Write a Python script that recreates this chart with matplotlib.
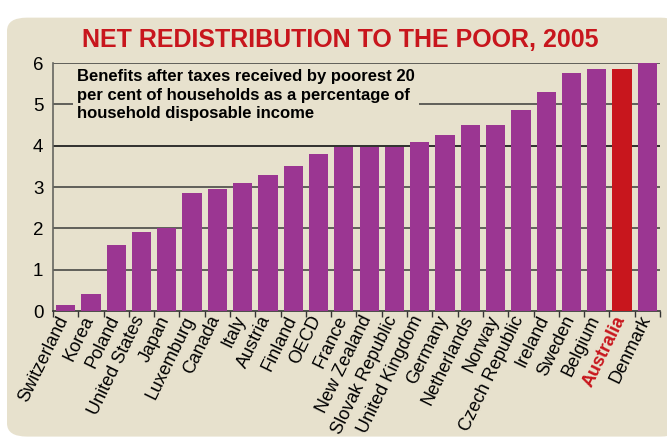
import matplotlib
matplotlib.use("Agg")
import matplotlib.pyplot as plt
from matplotlib.patches import FancyBboxPatch
import numpy as np

countries = ["Switzerland", "Korea", "Poland", "United States", "Japan", "Luxemburg",
             "Canada", "Italy", "Austria", "Finland", "OECD", "France", "New Zealand",
             "Slovak Republic", "United Kingdom", "Germany", "Netherlands", "Norway",
             "Czech Republic", "Ireland", "Sweden", "Belgium", "Australia", "Denmark"]
values = [0.15, 0.4, 1.6, 1.9, 2.0, 2.85, 2.95, 3.1, 3.3, 3.5, 3.8, 3.97, 3.97,
          3.97, 4.1, 4.25, 4.5, 4.5, 4.87, 5.3, 5.77, 5.85, 5.85, 6.0]
highlight = "Australia"
yticks = [0, 1, 2, 3, 4, 5, 6]

BG = "#E7E1CD"
PURPLE = "#9B3692"
RED = "#C8161D"

FAM = ['Liberation Sans Narrow', 'DejaVu Sans Condensed', 'Liberation Sans', 'DejaVu Sans']
plt.rcParams['font.family'] = FAM

fig = plt.figure(figsize=(6.67, 4.41), dpi=100)
fig.patch.set_facecolor("white")
bg = FancyBboxPatch((7/667, 0.01), 1 - 7/667 + 0.02, 0.96 - 0.01,
                    boxstyle="round,pad=0,rounding_size=0.03",
                    transform=fig.transFigure, facecolor=BG, edgecolor="none", zorder=-10)
fig.patches.append(bg)

fig.text(0.51, 0.91, "NET REDISTRIBUTION TO THE POOR, 2005", color=RED,
         fontsize=18, fontweight="bold", ha="center", va="center")

ax = fig.add_axes([53/667, 1 - 311/441, (660 - 53)/667, (311 - 63)/441])
ax.set_facecolor(BG)
x = np.arange(len(countries))
colors = [RED if c == highlight else PURPLE for c in countries]
ax.bar(x, values, width=0.76, color=colors, zorder=3)
ax.set_xlim(-0.5, len(countries) - 0.5)
ax.set_ylim(0, 6)
ax.set_yticks(yticks)
ax.set_yticklabels([str(v) for v in yticks], fontsize=13.5)
for v in yticks[1:]:
    ax.axhline(v, color="#555550" if v != 4 else "#222222", lw=1.3, zorder=1)
ax.set_xticks(np.arange(len(countries) + 1) - 0.5, minor=False)
ax.set_xticklabels([])
ax.tick_params(axis="x", direction="out", length=4, width=1, color="#333333")
ax.tick_params(axis="y", length=0, pad=7)
for s in ["top", "right"]:
    ax.spines[s].set_visible(False)
ax.spines["left"].set_color("#666660")
ax.spines["left"].set_linewidth(1.2)
ax.spines["bottom"].set_color("#333333")
ax.spines["bottom"].set_linewidth(1.2)

for i, c in enumerate(countries):
    ax.text(i - 0.05, -0.14, c, rotation=64, rotation_mode="anchor", ha="right", va="center",
            fontsize=13, color=RED if c == highlight else "black",
            fontweight="bold" if c == highlight else "normal",
            transform=ax.transData, clip_on=False)

ax.text(0.04, 0.975,
        "Benefits after taxes received by poorest 20\nper cent of households as a percentage of\nhousehold disposable income",
        transform=ax.transAxes, ha="left", va="top", fontsize=12, fontweight="bold",
        linespacing=1.3, zorder=5,
        bbox=dict(facecolor=BG, edgecolor="none", pad=3))

fig.savefig("out.png", dpi=100, facecolor=fig.get_facecolor())
